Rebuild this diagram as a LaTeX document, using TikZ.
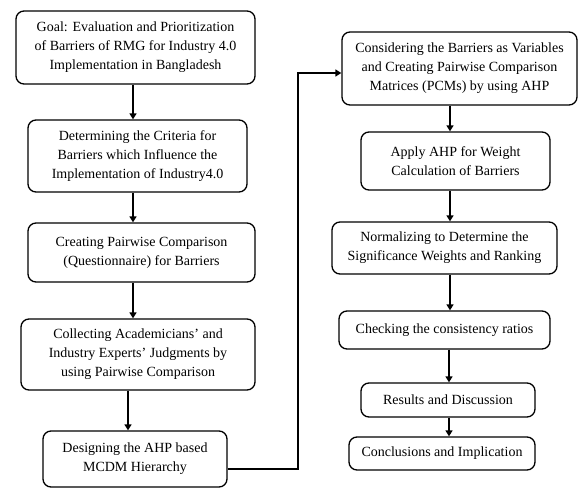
\documentclass[tikz,border=0pt]{standalone}
\usepackage{fontspec}
\setmainfont{Liberation Serif}
\usetikzlibrary{arrows.meta}

\begin{document}
\begin{tikzpicture}[x=1pt,y=-1pt,
          every node/.style={font=\fontsize{14}{19}\selectfont},
          stepbox/.style={draw,line width=1.3pt,rounded corners=8pt,align=center,inner sep=0pt},
          flow/.style={line width=2.2pt,-{Triangle[length=6pt,width=7pt]}}]
        \useasboundingbox (0,0) rectangle (586,489);
        % left column
        \node[stepbox,minimum width=239pt,minimum height=73pt] (goal) at (135.5,47.5)
            {Goal: Evaluation and Prioritization\\ of Barriers of RMG for Industry 4.0\\ Implementation in Bangladesh};
        \node[stepbox,minimum width=219pt,minimum height=72pt] (crit) at (137.5,156)
            {Determining the Criteria for\\ Barriers which Influence the\\ Implementation of Industry4.0};
        \node[stepbox,minimum width=227pt,minimum height=59pt] (quest) at (141.5,252.5)
            {Creating Pairwise Comparison\\ (Questionnaire) for Barriers};
        \node[stepbox,minimum width=234pt,minimum height=71pt] (judge) at (138,354.5)
            {Collecting Academicians' and\\ Industry Experts' Judgments by\\ using Pairwise Comparison};
        \node[stepbox,minimum width=184pt,minimum height=56pt] (hier) at (135,459)
            {Designing the AHP based\\ MCDM Hierarchy};
        % right column
        \node[stepbox,minimum width=235pt,minimum height=73pt] (pcm) at (459.5,68.5)
            {Considering the Barriers as Variables\\ and Creating Pairwise Comparison\\ Matrices (PCMs) by using AHP};
        \node[stepbox,minimum width=189pt,minimum height=58pt] (weight) at (455.5,161)
            {Apply AHP for Weight\\ Calculation of Barriers};
        \node[stepbox,minimum width=225pt,minimum height=52pt] (norm) at (444.5,248)
            {Normalizing to Determine the\\ Significance Weights and Ranking};
        \node[stepbox,minimum width=211pt,minimum height=38pt] (cons) at (444.5,330)
            {Checking the consistency ratios};
        \node[stepbox,minimum width=174pt,minimum height=34pt] (res) at (448,400)
            {Results and Discussion};
        \node[stepbox,minimum width=186pt,minimum height=33pt] (concl) at (442,453.5)
            {Conclusions and Implication};
        % arrows
        \draw[flow] ([xshift=-2.5pt]goal.south) -- ([xshift=-2.5pt]goal.south |- crit.north);
        \draw[flow] ([xshift=-4.5pt]crit.south) -- ([xshift=-4.5pt]crit.south |- quest.north);
        \draw[flow] ([xshift=-8.5pt]quest.south) -- ([xshift=-8.5pt]quest.south |- judge.north);
        \draw[flow] ([xshift=-10pt]judge.south) -- ([xshift=-10pt]judge.south |- hier.north);
        \draw[flow] ([yshift=-10pt]hier.east) -- ++(70,0) |- ([yshift=-4.5pt]pcm.west);
        \draw[flow] ([xshift=-9.5pt]pcm.south) -- ([xshift=-9.5pt]pcm.south |- weight.north);
        \draw[flow] ([xshift=-5.5pt]weight.south) -- ([xshift=-5.5pt]weight.south |- norm.north);
        \draw[flow] ([xshift=5.5pt]norm.south) -- ([xshift=5.5pt]norm.south |- cons.north);
        \draw[flow] ([xshift=4.5pt]cons.south) -- ([xshift=4.5pt]cons.south |- res.north);
        \draw[flow] ([xshift=1pt]res.south) -- ([xshift=1pt]res.south |- concl.north);
      \end{tikzpicture}
\end{document}
